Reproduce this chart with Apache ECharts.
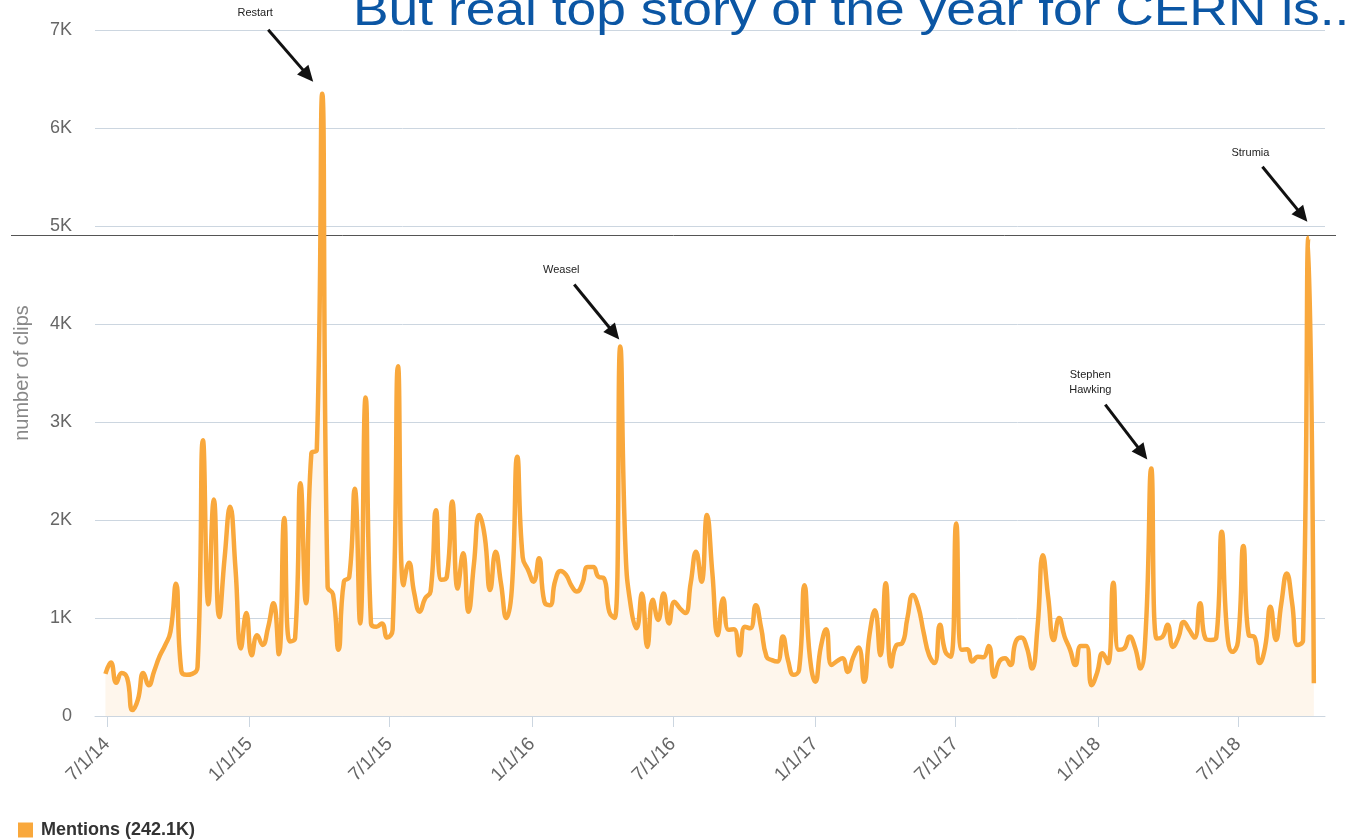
<!DOCTYPE html>
<html><head><meta charset="utf-8">
<script src="https://cdn.jsdelivr.net/npm/echarts@6/dist/echarts.min.js"></script>
<style>html,body{margin:0;padding:0;background:#fff}#c{width:1345px;height:840px}</style>
</head><body><div id="c"></div>
<script>
const seriesName = 'Mentions (242.1K)';
const titleText = 'But real top story of the year for CERN is...';
const yAxisName = 'number of clips';
const firstWeek = [2014, 6, 29];   // weekly points, Sundays
const mentions = [
  430,545,340,440,390,60,170,440,315,460,
  610,720,860,1350,460,420,430,500,2815,1140,
  2210,1010,1620,2135,1500,690,1050,620,825,725,
  900,1150,630,2020,760,795,2375,1150,2680,2715,
  6350,1320,1240,675,1370,1420,2320,945,3250,945,
  910,945,800,880,3570,1335,1565,1250,1065,1200,
  1270,2100,1390,1420,2190,1300,1660,1065,1550,2050,
  1830,1285,1675,1350,1000,1300,2645,1620,1490,1370,
  1610,1165,1130,1380,1480,1440,1330,1270,1350,1520,
  1520,1420,1405,1060,1000,3770,1660,1100,895,1250,
  705,1185,980,1250,945,1165,1100,1050,1355,1675,
  1370,2050,1460,825,1200,880,885,620,910,895,
  1130,900,605,570,555,810,560,420,470,1335,
  600,350,700,885,520,560,590,450,600,700,
  350,830,1080,620,1355,505,725,740,1000,1235,
  1115,850,620,540,930,655,605,1965,675,680,
  555,605,600,715,400,560,590,520,760,800,
  705,485,900,1640,1200,775,1000,810,680,520,
  715,715,315,440,640,540,1360,675,690,810,
  700,485,900,2525,790,805,930,705,800,960,
  880,800,1150,790,775,800,1880,850,655,760,
  1735,825,810,540,700,1115,775,1150,1455,1150,
  725,770,4880,335
];
const xTickLabels = ['7/1/14','1/1/15','7/1/15','1/1/16','7/1/16','1/1/17','7/1/17','1/1/18','7/1/18'];
const annotationIndex = [40, 95, 193, 222];
const annotationText = ['Restart', 'Weasel', 'Stephen\nHawking', 'Strumia'];

const DAY = 86400000;
const t0 = Date.UTC(firstWeek[0], firstWeek[1] - 1, firstWeek[2]);
const weekDates = mentions.map((_, i) => t0 + i * 7 * DAY);
const seriesData = mentions.map((v, i) => [weekDates[i], v]);
function parseMDY(s) { const p = s.split('/').map(Number); return Date.UTC(2000 + p[2], p[0] - 1, p[1]); }
const tickValues = xTickLabels.map(parseMDY);

const chart = echarts.init(document.getElementById('c'), null, {renderer: 'canvas'});
const FONT = '"Liberation Sans", Arial, Helvetica, sans-serif';
const gridColor = '#ccd6e0';

chart.setOption({
  animation: false,
  textStyle: {fontFamily: FONT},
  grid: {left: 95, right: 20, top: 30, bottom: 124, containLabel: false},
  xAxis: {
    type: 'value',
    min: Date.UTC(2014, 5, 15, 12),
    max: Date.UTC(2018, 9, 21, 10),
    axisLine: {show: true, onZero: false, lineStyle: {color: gridColor, width: 1}},
    axisTick: {show: true, length: 11, customValues: tickValues, lineStyle: {color: gridColor}},
    axisLabel: {
      customValues: tickValues, rotate: 45, margin: 25, fontSize: 19, color: '#666',
      fontFamily: FONT, showMinLabel: true, showMaxLabel: true,
      formatter: function (v) {
        const d = new Date(v);
        return (d.getUTCMonth() + 1) + '/' + d.getUTCDate() + '/' + String(d.getUTCFullYear()).slice(2);
      }
    },
    splitLine: {show: false}
  },
  yAxis: {
    type: 'value', min: 0, max: 7000, interval: 1000,
    name: yAxisName, nameLocation: 'middle', nameGap: 63, nameRotate: 90,
    nameTextStyle: {fontSize: 20, color: '#888', fontFamily: FONT},
    axisLine: {show: false}, axisTick: {show: false},
    axisLabel: {fontSize: 18, color: '#666', margin: 23, fontFamily: FONT, padding: [9, 0, 0, 0],
      formatter: v => v === 0 ? '0' : (v / 1000) + 'K'},
    splitLine: {show: true, lineStyle: {color: gridColor, width: 1}}
  },
  legend: {
    left: 18, top: 821, padding: 0, itemWidth: 15, itemHeight: 15, icon: 'rect',
    textStyle: {fontSize: 18, fontWeight: 'bold', color: '#333', fontFamily: FONT, padding: [0, 0, 0, 3]},
    data: [seriesName]
  },
  series: [{
    name: seriesName, type: 'line', data: seriesData, smooth: 0.5,
    showSymbol: false, symbol: 'none',
    lineStyle: {color: '#f9a83c', width: 4.5},
    itemStyle: {color: '#f9a83c'},
    areaStyle: {color: '#fef6ec', opacity: 1}
  }]
});

// overlays: title, rule line, annotations positioned from the data point via the chart's scales
const graphics = [
  {type: 'text', x: 353, y: 12.7, scaleX: 1.16, silent: true, style: {text: titleText, font: '46px ' + FONT, fill: '#0b56a4', verticalAlign: 'middle'}},
  {type: 'line', silent: true, shape: {x1: 11, y1: 235.5, x2: 1336, y2: 235.5}, style: {stroke: '#555', lineWidth: 1}}
];
const offsets = [
  {tx: -67, ty: -81, sx: -54, sy: -64, ex: -9, ey: -12},
  {tx: -59, ty: -77, sx: -46, sy: -62, ex: -1, ey: -7},
  {tx: -61, ty: -86, sx: -46, sy: -64, ex: -4, ey: -9},
  {tx: -58, ty: -85, sx: -46, sy: -71, ex: -1, ey: -16}
];
annotationIndex.forEach((idx, j) => {
  const p = chart.convertToPixel({seriesIndex: 0}, seriesData[idx]);
  const o = offsets[j];
  const sx = p[0] + o.sx, sy = p[1] + o.sy, ex = p[0] + o.ex, ey = p[1] + o.ey;
  const dx = ex - sx, dy = ey - sy, len = Math.hypot(dx, dy);
  const ux = dx / len, uy = dy / len, nx = -uy, ny = ux;
  const hl = 16, hw = 7.5;
  const bx = ex - ux * hl, by = ey - uy * hl;
  graphics.push({type: 'line', silent: true, shape: {x1: sx, y1: sy, x2: bx + ux * 2, y2: by + uy * 2}, style: {stroke: '#111', lineWidth: 3}});
  graphics.push({type: 'polygon', silent: true, shape: {points: [[ex, ey], [bx + nx * hw, by + ny * hw], [bx - nx * hw, by - ny * hw]]}, style: {fill: '#111'}});
  graphics.push({type: 'text', silent: true, x: p[0] + o.tx, y: p[1] + o.ty,
    style: {text: annotationText[j], font: '11px ' + FONT, fill: '#222', align: 'center', verticalAlign: 'middle', lineHeight: 15}});
});
chart.setOption({graphic: graphics});
</script>
</body></html>
